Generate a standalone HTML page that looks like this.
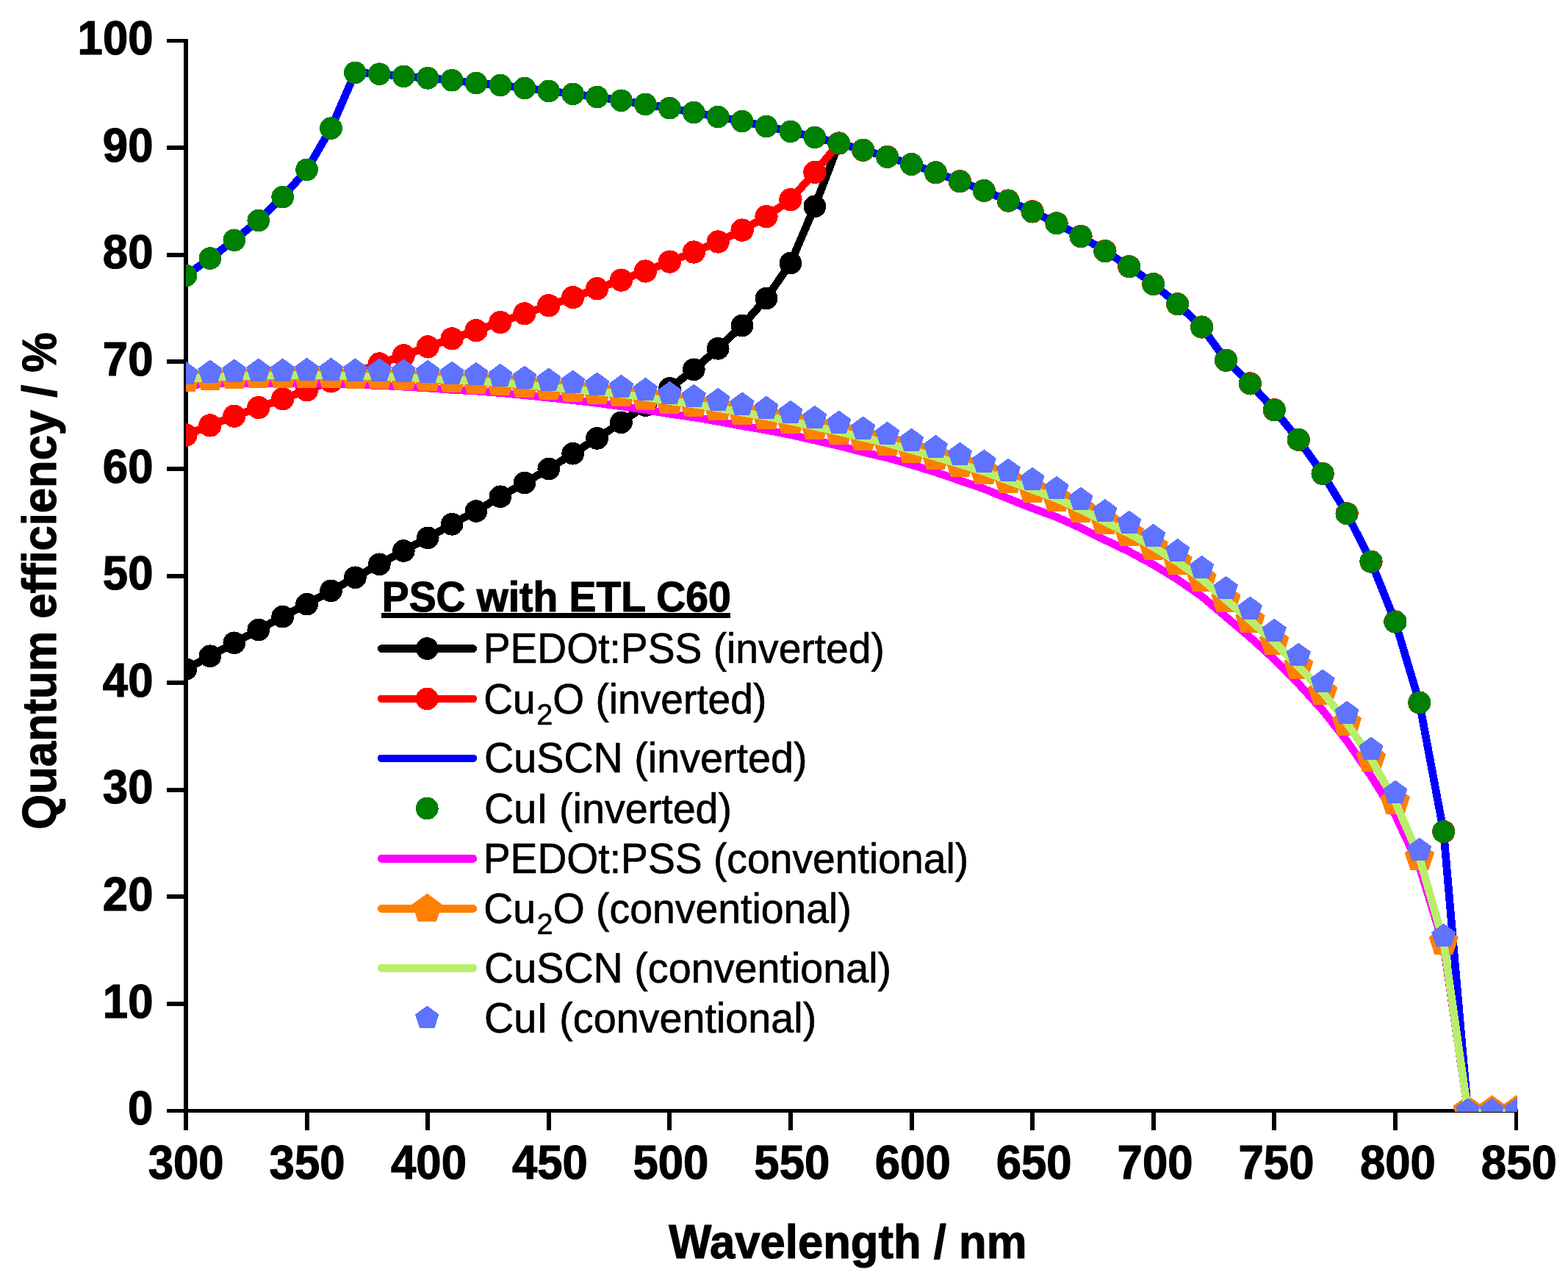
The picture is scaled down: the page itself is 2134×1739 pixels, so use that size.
<!DOCTYPE html>
<html lang="en"><head><meta charset="utf-8"><title>Quantum efficiency vs wavelength</title>
<style>html,body{margin:0;padding:0;background:#fff}svg{display:block}text{font-family:"Liberation Sans", Arial, Helvetica, sans-serif;fill:#000}</style>
</head><body>
<svg width="2134" height="1739" viewBox="0 0 2134 1739">
<rect x="0" y="0" width="2134" height="1739" fill="#fff"/>
<g fill="#000" shape-rendering="crispEdges">
<rect x="250" y="53" width="6" height="1485"/>
<rect x="227" y="1509" width="1839" height="5"/>
<rect x="227" y="1363" width="24" height="6"/>
<rect x="227" y="1217" width="24" height="6"/>
<rect x="227" y="1072" width="24" height="6"/>
<rect x="227" y="926" width="24" height="6"/>
<rect x="227" y="781" width="24" height="6"/>
<rect x="227" y="635" width="24" height="6"/>
<rect x="227" y="489" width="24" height="6"/>
<rect x="227" y="344" width="24" height="6"/>
<rect x="227" y="198" width="24" height="6"/>
<rect x="227" y="53" width="24" height="5"/>
<rect x="415" y="1509" width="6" height="29"/>
<rect x="579" y="1509" width="6" height="29"/>
<rect x="744" y="1509" width="6" height="29"/>
<rect x="908" y="1509" width="6" height="29"/>
<rect x="1073" y="1509" width="6" height="29"/>
<rect x="1238" y="1509" width="6" height="29"/>
<rect x="1402" y="1509" width="6" height="29"/>
<rect x="1567" y="1509" width="6" height="29"/>
<rect x="1731" y="1509" width="6" height="29"/>
<rect x="1896" y="1509" width="6" height="29"/>
<rect x="2061" y="1509" width="5" height="29"/>
</g>
<defs><clipPath id="plot"><rect x="253" y="0" width="1812" height="1513"/></clipPath></defs>
<g clip-path="url(#plot)" shape-rendering="crispEdges">
<polyline points="253.0,910.5 285.9,892.8 318.8,874.8 351.8,857.0 384.7,839.1 417.6,822.1 450.5,803.9 483.4,785.8 516.3,767.8 549.3,749.6 582.2,731.9 615.1,713.3 648.0,695.5 680.9,675.8 713.9,657.0 746.8,638.0 779.7,617.2 812.6,596.4 845.5,574.8 878.4,551.6 911.4,528.4 944.3,502.8 977.2,474.3 1010.1,443.0 1043.0,405.9 1075.9,358.1 1108.9,280.8 1141.8,195.0 1174.7,204.3 1207.6,213.4 1240.5,223.5 1273.5,234.8 1306.4,246.7 1339.3,259.4 1372.2,273.1 1405.1,287.9 1438.0,303.8 1471.0,321.6 1503.9,341.6 1536.8,362.8 1569.7,386.6 1602.6,413.7 1635.6,445.0 1668.5,490.2 1701.4,521.9 1734.3,557.7 1767.2,598.3 1800.1,644.5 1833.1,698.8 1866.0,764.2 1898.9,846.0 1931.8,956.1 1964.7,1131.6 1997.7,1511.5 2030.6,1511.5 2063.5,1511.5" fill="none" stroke="#000000" stroke-width="10.7" stroke-linejoin="round" stroke-linecap="round"/>
<g fill="#000000"><circle cx="253.0" cy="910.5" r="15.35"/><circle cx="285.9" cy="892.8" r="15.35"/><circle cx="318.8" cy="874.8" r="15.35"/><circle cx="351.8" cy="857.0" r="15.35"/><circle cx="384.7" cy="839.1" r="15.35"/><circle cx="417.6" cy="822.1" r="15.35"/><circle cx="450.5" cy="803.9" r="15.35"/><circle cx="483.4" cy="785.8" r="15.35"/><circle cx="516.3" cy="767.8" r="15.35"/><circle cx="549.3" cy="749.6" r="15.35"/><circle cx="582.2" cy="731.9" r="15.35"/><circle cx="615.1" cy="713.3" r="15.35"/><circle cx="648.0" cy="695.5" r="15.35"/><circle cx="680.9" cy="675.8" r="15.35"/><circle cx="713.9" cy="657.0" r="15.35"/><circle cx="746.8" cy="638.0" r="15.35"/><circle cx="779.7" cy="617.2" r="15.35"/><circle cx="812.6" cy="596.4" r="15.35"/><circle cx="845.5" cy="574.8" r="15.35"/><circle cx="878.4" cy="551.6" r="15.35"/><circle cx="911.4" cy="528.4" r="15.35"/><circle cx="944.3" cy="502.8" r="15.35"/><circle cx="977.2" cy="474.3" r="15.35"/><circle cx="1010.1" cy="443.0" r="15.35"/><circle cx="1043.0" cy="405.9" r="15.35"/><circle cx="1075.9" cy="358.1" r="15.35"/><circle cx="1108.9" cy="280.8" r="15.35"/><circle cx="1141.8" cy="195.0" r="15.35"/><circle cx="1174.7" cy="204.3" r="15.35"/><circle cx="1207.6" cy="213.4" r="15.35"/><circle cx="1240.5" cy="223.5" r="15.35"/><circle cx="1273.5" cy="234.8" r="15.35"/><circle cx="1306.4" cy="246.7" r="15.35"/><circle cx="1339.3" cy="259.4" r="15.35"/><circle cx="1372.2" cy="273.1" r="15.35"/><circle cx="1405.1" cy="287.9" r="15.35"/><circle cx="1438.0" cy="303.8" r="15.35"/><circle cx="1471.0" cy="321.6" r="15.35"/><circle cx="1503.9" cy="341.6" r="15.35"/><circle cx="1536.8" cy="362.8" r="15.35"/><circle cx="1569.7" cy="386.6" r="15.35"/><circle cx="1602.6" cy="413.7" r="15.35"/><circle cx="1635.6" cy="445.0" r="15.35"/><circle cx="1668.5" cy="490.2" r="15.35"/><circle cx="1701.4" cy="521.9" r="15.35"/><circle cx="1734.3" cy="557.7" r="15.35"/><circle cx="1767.2" cy="598.3" r="15.35"/><circle cx="1800.1" cy="644.5" r="15.35"/><circle cx="1833.1" cy="698.8" r="15.35"/><circle cx="1866.0" cy="764.2" r="15.35"/><circle cx="1898.9" cy="846.0" r="15.35"/><circle cx="1931.8" cy="956.1" r="15.35"/><circle cx="1964.7" cy="1131.6" r="15.35"/><circle cx="1997.7" cy="1511.5" r="15.35"/><circle cx="2030.6" cy="1511.5" r="15.35"/><circle cx="2063.5" cy="1511.5" r="15.35"/></g>
<polyline points="253.0,592.0 285.9,578.9 318.8,566.2 351.8,554.6 384.7,542.7 417.6,530.8 450.5,518.9 483.4,507.0 516.3,494.9 549.3,483.8 582.2,471.9 615.1,460.8 648.0,449.7 680.9,438.5 713.9,426.8 746.8,415.7 779.7,404.6 812.6,392.8 845.5,381.1 878.4,369.0 911.4,356.1 944.3,343.0 977.2,329.0 1010.1,313.1 1043.0,294.6 1075.9,271.7 1108.9,234.4 1141.8,195.0 1174.7,204.3 1207.6,213.4 1240.5,223.5 1273.5,234.8 1306.4,246.7 1339.3,259.4 1372.2,273.1 1405.1,287.9 1438.0,303.8 1471.0,321.6 1503.9,341.6 1536.8,362.8 1569.7,386.6 1602.6,413.7 1635.6,445.0 1668.5,490.2 1701.4,521.9 1734.3,557.7 1767.2,598.3 1800.1,644.5 1833.1,698.8 1866.0,764.2 1898.9,846.0 1931.8,956.1 1964.7,1131.6 1997.7,1511.5 2030.6,1511.5 2063.5,1511.5" fill="none" stroke="#ff0000" stroke-width="10.7" stroke-linejoin="round" stroke-linecap="round"/>
<g fill="#ff0000"><circle cx="253.0" cy="592.0" r="15.65"/><circle cx="285.9" cy="578.9" r="15.65"/><circle cx="318.8" cy="566.2" r="15.65"/><circle cx="351.8" cy="554.6" r="15.65"/><circle cx="384.7" cy="542.7" r="15.65"/><circle cx="417.6" cy="530.8" r="15.65"/><circle cx="450.5" cy="518.9" r="15.65"/><circle cx="483.4" cy="507.0" r="15.65"/><circle cx="516.3" cy="494.9" r="15.65"/><circle cx="549.3" cy="483.8" r="15.65"/><circle cx="582.2" cy="471.9" r="15.65"/><circle cx="615.1" cy="460.8" r="15.65"/><circle cx="648.0" cy="449.7" r="15.65"/><circle cx="680.9" cy="438.5" r="15.65"/><circle cx="713.9" cy="426.8" r="15.65"/><circle cx="746.8" cy="415.7" r="15.65"/><circle cx="779.7" cy="404.6" r="15.65"/><circle cx="812.6" cy="392.8" r="15.65"/><circle cx="845.5" cy="381.1" r="15.65"/><circle cx="878.4" cy="369.0" r="15.65"/><circle cx="911.4" cy="356.1" r="15.65"/><circle cx="944.3" cy="343.0" r="15.65"/><circle cx="977.2" cy="329.0" r="15.65"/><circle cx="1010.1" cy="313.1" r="15.65"/><circle cx="1043.0" cy="294.6" r="15.65"/><circle cx="1075.9" cy="271.7" r="15.65"/><circle cx="1108.9" cy="234.4" r="15.65"/><circle cx="1141.8" cy="195.0" r="15.65"/><circle cx="1174.7" cy="204.3" r="15.65"/><circle cx="1207.6" cy="213.4" r="15.65"/><circle cx="1240.5" cy="223.5" r="15.65"/><circle cx="1273.5" cy="234.8" r="15.65"/><circle cx="1306.4" cy="246.7" r="15.65"/><circle cx="1339.3" cy="259.4" r="15.65"/><circle cx="1372.2" cy="273.1" r="15.65"/><circle cx="1405.1" cy="287.9" r="15.65"/><circle cx="1438.0" cy="303.8" r="15.65"/><circle cx="1471.0" cy="321.6" r="15.65"/><circle cx="1503.9" cy="341.6" r="15.65"/><circle cx="1536.8" cy="362.8" r="15.65"/><circle cx="1569.7" cy="386.6" r="15.65"/><circle cx="1602.6" cy="413.7" r="15.65"/><circle cx="1635.6" cy="445.0" r="15.65"/><circle cx="1668.5" cy="490.2" r="15.65"/><circle cx="1701.4" cy="521.9" r="15.65"/><circle cx="1734.3" cy="557.7" r="15.65"/><circle cx="1767.2" cy="598.3" r="15.65"/><circle cx="1800.1" cy="644.5" r="15.65"/><circle cx="1833.1" cy="698.8" r="15.65"/><circle cx="1866.0" cy="764.2" r="15.65"/><circle cx="1898.9" cy="846.0" r="15.65"/><circle cx="1931.8" cy="956.1" r="15.65"/><circle cx="1964.7" cy="1131.6" r="15.65"/><circle cx="1997.7" cy="1511.5" r="15.65"/><circle cx="2030.6" cy="1511.5" r="15.65"/><circle cx="2063.5" cy="1511.5" r="15.65"/></g>
<polyline points="253.0,374.9 285.9,351.6 318.8,326.8 351.8,300.0 384.7,268.1 417.6,230.9 450.5,174.6 483.4,98.9 516.3,100.7 549.3,103.9 582.2,106.3 615.1,109.2 648.0,113.0 680.9,116.0 713.9,119.9 746.8,123.9 779.7,127.9 812.6,132.0 845.5,136.8 878.4,141.9 911.4,147.1 944.3,153.0 977.2,159.0 1010.1,165.1 1043.0,172.0 1075.9,178.9 1108.9,186.9 1141.8,195.0 1174.7,204.3 1207.6,213.4 1240.5,223.5 1273.5,234.8 1306.4,246.7 1339.3,259.4 1372.2,273.1 1405.1,287.9 1438.0,303.8 1471.0,321.6 1503.9,341.6 1536.8,362.8 1569.7,386.6 1602.6,413.7 1635.6,445.0 1668.5,490.2 1701.4,521.9 1734.3,557.7 1767.2,598.3 1800.1,644.5 1833.1,698.8 1866.0,764.2 1898.9,846.0 1931.8,956.1 1964.7,1131.6 1997.7,1511.5 2030.6,1511.5 2063.5,1511.5" fill="none" stroke="#0000ff" stroke-width="10.7" stroke-linejoin="round" stroke-linecap="round"/>
<g fill="#008000"><circle cx="253.0" cy="374.9" r="15.35"/><circle cx="285.9" cy="351.6" r="15.35"/><circle cx="318.8" cy="326.8" r="15.35"/><circle cx="351.8" cy="300.0" r="15.35"/><circle cx="384.7" cy="268.1" r="15.35"/><circle cx="417.6" cy="230.9" r="15.35"/><circle cx="450.5" cy="174.6" r="15.35"/><circle cx="483.4" cy="98.9" r="15.35"/><circle cx="516.3" cy="100.7" r="15.35"/><circle cx="549.3" cy="103.9" r="15.35"/><circle cx="582.2" cy="106.3" r="15.35"/><circle cx="615.1" cy="109.2" r="15.35"/><circle cx="648.0" cy="113.0" r="15.35"/><circle cx="680.9" cy="116.0" r="15.35"/><circle cx="713.9" cy="119.9" r="15.35"/><circle cx="746.8" cy="123.9" r="15.35"/><circle cx="779.7" cy="127.9" r="15.35"/><circle cx="812.6" cy="132.0" r="15.35"/><circle cx="845.5" cy="136.8" r="15.35"/><circle cx="878.4" cy="141.9" r="15.35"/><circle cx="911.4" cy="147.1" r="15.35"/><circle cx="944.3" cy="153.0" r="15.35"/><circle cx="977.2" cy="159.0" r="15.35"/><circle cx="1010.1" cy="165.1" r="15.35"/><circle cx="1043.0" cy="172.0" r="15.35"/><circle cx="1075.9" cy="178.9" r="15.35"/><circle cx="1108.9" cy="186.9" r="15.35"/><circle cx="1141.8" cy="195.0" r="15.35"/><circle cx="1174.7" cy="204.3" r="15.35"/><circle cx="1207.6" cy="213.4" r="15.35"/><circle cx="1240.5" cy="223.5" r="15.35"/><circle cx="1273.5" cy="234.8" r="15.35"/><circle cx="1306.4" cy="246.7" r="15.35"/><circle cx="1339.3" cy="259.4" r="15.35"/><circle cx="1372.2" cy="273.1" r="15.35"/><circle cx="1405.1" cy="287.9" r="15.35"/><circle cx="1438.0" cy="303.8" r="15.35"/><circle cx="1471.0" cy="321.6" r="15.35"/><circle cx="1503.9" cy="341.6" r="15.35"/><circle cx="1536.8" cy="362.8" r="15.35"/><circle cx="1569.7" cy="386.6" r="15.35"/><circle cx="1602.6" cy="413.7" r="15.35"/><circle cx="1635.6" cy="445.0" r="15.35"/><circle cx="1668.5" cy="490.2" r="15.35"/><circle cx="1701.4" cy="521.9" r="15.35"/><circle cx="1734.3" cy="557.7" r="15.35"/><circle cx="1767.2" cy="598.3" r="15.35"/><circle cx="1800.1" cy="644.5" r="15.35"/><circle cx="1833.1" cy="698.8" r="15.35"/><circle cx="1866.0" cy="764.2" r="15.35"/><circle cx="1898.9" cy="846.0" r="15.35"/><circle cx="1931.8" cy="956.1" r="15.35"/><circle cx="1964.7" cy="1131.6" r="15.35"/><circle cx="1997.7" cy="1511.5" r="15.35"/><circle cx="2030.6" cy="1511.5" r="15.35"/><circle cx="2063.5" cy="1511.5" r="15.35"/></g>
<polyline points="253.0,524.2 285.9,522.2 318.8,521.4 351.8,521.0 384.7,521.7 417.6,521.6 450.5,522.3 483.4,523.7 516.3,524.4 549.3,526.2 582.2,528.0 615.1,530.4 648.0,532.1 680.9,534.6 713.9,537.7 746.8,541.1 779.7,544.6 812.6,548.4 845.5,552.8 878.4,557.6 911.4,563.2 944.3,567.8 977.2,573.4 1010.1,579.5 1043.0,585.2 1075.9,591.6 1108.9,599.1 1141.8,606.6 1174.7,615.2 1207.6,622.9 1240.5,632.4 1273.5,642.5 1306.4,653.9 1339.3,665.2 1372.2,678.5 1405.1,691.6 1438.0,703.6 1471.0,718.5 1503.9,734.8 1536.8,750.5 1569.7,768.4 1602.6,788.5 1635.6,811.5 1668.5,839.4 1701.4,867.1 1734.3,897.1 1767.2,930.4 1800.1,966.5 1833.1,1008.2 1866.0,1056.0 1898.9,1109.0 1931.8,1179.1 1964.7,1286.0 1997.7,1511.5 2030.6,1511.5 2063.5,1511.5" fill="none" stroke="#ff00ff" stroke-width="10.7" stroke-linejoin="round" stroke-linecap="round"/>
<polyline points="253.0,515.6 285.9,513.8 318.8,512.0 351.8,511.0 384.7,510.9 417.6,510.4 450.5,510.7 483.4,511.8 516.3,512.1 549.3,513.5 582.2,515.1 615.1,517.0 648.0,518.4 680.9,520.5 713.9,523.5 746.8,526.6 779.7,529.8 812.6,532.9 845.5,536.3 878.4,540.4 911.4,545.6 944.3,549.9 977.2,555.2 1010.1,561.2 1043.0,566.7 1075.9,573.1 1108.9,580.4 1141.8,587.5 1174.7,595.6 1207.6,603.1 1240.5,612.5 1273.5,621.7 1306.4,631.7 1339.3,641.8 1372.2,654.1 1405.1,666.3 1438.0,678.5 1471.0,693.6 1503.9,710.2 1536.8,726.1 1569.7,744.3 1602.6,764.7 1635.6,788.0 1668.5,816.2 1701.4,843.9 1734.3,873.8 1767.2,906.7 1800.1,941.7 1833.1,983.8 1866.0,1032.3 1898.9,1090.8 1931.8,1166.9 1964.7,1281.8 1997.7,1511.5 2030.6,1511.5 2063.5,1511.5" fill="none" stroke="#ff8000" stroke-width="10.7" stroke-linejoin="round" stroke-linecap="round"/>
<g fill="#ff8000"><polygon points="253.0,494.4 273.2,509.0 265.5,532.8 240.5,532.8 232.8,509.0"/><polygon points="285.9,492.6 306.1,507.2 298.4,531.0 273.5,531.0 265.8,507.2"/><polygon points="318.8,490.8 339.0,505.4 331.3,529.2 306.4,529.2 298.7,505.4"/><polygon points="351.8,489.8 371.9,504.4 364.2,528.2 339.3,528.2 331.6,504.4"/><polygon points="384.7,489.7 404.8,504.3 397.1,528.1 372.2,528.1 364.5,504.3"/><polygon points="417.6,489.2 437.8,503.8 430.1,527.6 405.1,527.6 397.4,503.8"/><polygon points="450.5,489.5 470.7,504.1 463.0,527.9 438.0,527.9 430.3,504.1"/><polygon points="483.4,490.6 503.6,505.2 495.9,528.9 471.0,528.9 463.3,505.2"/><polygon points="516.3,490.9 536.5,505.5 528.8,529.3 503.9,529.3 496.2,505.5"/><polygon points="549.3,492.3 569.4,507.0 561.7,530.7 536.8,530.7 529.1,507.0"/><polygon points="582.2,493.9 602.3,508.5 594.6,532.3 569.7,532.3 562.0,508.5"/><polygon points="615.1,495.8 635.3,510.5 627.6,534.2 602.6,534.2 594.9,510.5"/><polygon points="648.0,497.2 668.2,511.8 660.5,535.5 635.6,535.5 627.9,511.8"/><polygon points="680.9,499.3 701.1,514.0 693.4,537.7 668.5,537.7 660.8,514.0"/><polygon points="713.9,502.3 734.0,516.9 726.3,540.6 701.4,540.6 693.7,516.9"/><polygon points="746.8,505.4 766.9,520.0 759.2,543.8 734.3,543.8 726.6,520.0"/><polygon points="779.7,508.6 799.9,523.2 792.1,546.9 767.2,546.9 759.5,523.2"/><polygon points="812.6,511.7 832.8,526.4 825.1,550.1 800.1,550.1 792.4,526.4"/><polygon points="845.5,515.1 865.7,529.7 858.0,553.4 833.1,553.4 825.4,529.7"/><polygon points="878.4,519.2 898.6,533.9 890.9,557.6 866.0,557.6 858.3,533.9"/><polygon points="911.4,524.4 931.5,539.0 923.8,562.8 898.9,562.8 891.2,539.0"/><polygon points="944.3,528.7 964.4,543.3 956.7,567.1 931.8,567.1 924.1,543.3"/><polygon points="977.2,534.0 997.4,548.6 989.7,572.4 964.7,572.4 957.0,548.6"/><polygon points="1010.1,540.0 1030.3,554.6 1022.6,578.4 997.7,578.4 990.0,554.6"/><polygon points="1043.0,545.5 1063.2,560.1 1055.5,583.9 1030.6,583.9 1022.9,560.1"/><polygon points="1075.9,551.9 1096.1,566.5 1088.4,590.3 1063.5,590.3 1055.8,566.5"/><polygon points="1108.9,559.2 1129.0,573.8 1121.3,597.5 1096.4,597.5 1088.7,573.8"/><polygon points="1141.8,566.3 1161.9,580.9 1154.2,604.6 1129.3,604.6 1121.6,580.9"/><polygon points="1174.7,574.4 1194.9,589.1 1187.2,612.8 1162.2,612.8 1154.5,589.1"/><polygon points="1207.6,581.9 1227.8,596.6 1220.1,620.3 1195.2,620.3 1187.5,596.6"/><polygon points="1240.5,591.3 1260.7,605.9 1253.0,629.7 1228.1,629.7 1220.4,605.9"/><polygon points="1273.5,600.5 1293.6,615.1 1285.9,638.8 1261.0,638.8 1253.3,615.1"/><polygon points="1306.4,610.5 1326.5,625.2 1318.8,648.9 1293.9,648.9 1286.2,625.2"/><polygon points="1339.3,620.6 1359.5,635.2 1351.8,658.9 1326.8,658.9 1319.1,635.2"/><polygon points="1372.2,632.9 1392.4,647.6 1384.7,671.3 1359.8,671.3 1352.0,647.6"/><polygon points="1405.1,645.1 1425.3,659.7 1417.6,683.5 1392.7,683.5 1385.0,659.7"/><polygon points="1438.0,657.3 1458.2,672.0 1450.5,695.7 1425.6,695.7 1417.9,672.0"/><polygon points="1471.0,672.4 1491.1,687.1 1483.4,710.8 1458.5,710.8 1450.8,687.1"/><polygon points="1503.9,689.0 1524.0,703.6 1516.3,727.3 1491.4,727.3 1483.7,703.6"/><polygon points="1536.8,704.9 1557.0,719.5 1549.3,743.2 1524.3,743.2 1516.6,719.5"/><polygon points="1569.7,723.1 1589.9,737.7 1582.2,761.5 1557.3,761.5 1549.6,737.7"/><polygon points="1602.6,743.5 1622.8,758.2 1615.1,781.9 1590.2,781.9 1582.5,758.2"/><polygon points="1635.6,766.8 1655.7,781.4 1648.0,805.1 1623.1,805.1 1615.4,781.4"/><polygon points="1668.5,795.0 1688.6,809.6 1680.9,833.4 1656.0,833.4 1648.3,809.6"/><polygon points="1701.4,822.7 1721.6,837.3 1713.9,861.0 1688.9,861.0 1681.2,837.3"/><polygon points="1734.3,852.6 1754.5,867.3 1746.8,891.0 1721.8,891.0 1714.1,867.3"/><polygon points="1767.2,885.5 1787.4,900.1 1779.7,923.9 1754.8,923.9 1747.1,900.1"/><polygon points="1800.1,920.5 1820.3,935.1 1812.6,958.9 1787.7,958.9 1780.0,935.1"/><polygon points="1833.1,962.6 1853.2,977.2 1845.5,1001.0 1820.6,1001.0 1812.9,977.2"/><polygon points="1866.0,1011.1 1886.1,1025.7 1878.4,1049.5 1853.5,1049.5 1845.8,1025.7"/><polygon points="1898.9,1069.6 1919.1,1084.2 1911.4,1108.0 1886.4,1108.0 1878.7,1084.2"/><polygon points="1931.8,1145.7 1952.0,1160.3 1944.3,1184.1 1919.4,1184.1 1911.7,1160.3"/><polygon points="1964.7,1260.6 1984.9,1275.2 1977.2,1299.0 1952.3,1299.0 1944.6,1275.2"/><polygon points="1997.7,1490.3 2017.8,1504.9 2010.1,1528.7 1985.2,1528.7 1977.5,1504.9"/><polygon points="2030.6,1490.3 2050.7,1504.9 2043.0,1528.7 2018.1,1528.7 2010.4,1504.9"/><polygon points="2063.5,1490.3 2083.7,1504.9 2076.0,1528.7 2051.0,1528.7 2043.3,1504.9"/></g>
<polyline points="253.0,515.6 285.9,513.8 318.8,512.0 351.8,511.0 384.7,510.9 417.6,510.4 450.5,510.7 483.4,511.8 516.3,512.1 549.3,513.5 582.2,515.1 615.1,517.0 648.0,518.4 680.9,520.5 713.9,523.5 746.8,526.6 779.7,529.8 812.6,532.9 845.5,536.3 878.4,540.4 911.4,545.6 944.3,549.9 977.2,555.2 1010.1,561.2 1043.0,566.7 1075.9,573.1 1108.9,580.4 1141.8,587.5 1174.7,595.6 1207.6,603.1 1240.5,612.5 1273.5,621.7 1306.4,631.7 1339.3,641.8 1372.2,654.1 1405.1,666.3 1438.0,678.5 1471.0,693.6 1503.9,710.2 1536.8,726.1 1569.7,744.3 1602.6,764.7 1635.6,788.0 1668.5,816.2 1701.4,843.9 1734.3,873.8 1767.2,906.7 1800.1,941.7 1833.1,983.8 1866.0,1032.3 1898.9,1090.8 1931.8,1166.9 1964.7,1281.8 1997.7,1511.5 2030.6,1511.5 2063.5,1511.5" fill="none" stroke="#b9ee6b" stroke-width="10.7" stroke-linejoin="round" stroke-linecap="round"/>
<g fill="#5f73ff"><polygon points="253.0,491.8 269.5,503.8 263.2,523.3 242.8,523.3 236.5,503.8"/><polygon points="285.9,489.5 302.5,501.5 296.1,521.0 275.7,521.0 269.4,501.5"/><polygon points="318.8,488.4 335.4,500.4 329.1,519.9 308.6,519.9 302.3,500.4"/><polygon points="351.8,487.5 368.3,499.5 362.0,519.0 341.5,519.0 335.2,499.5"/><polygon points="384.7,487.5 401.2,499.5 394.9,519.0 374.4,519.0 368.1,499.5"/><polygon points="417.6,486.7 434.1,498.7 427.8,518.2 407.4,518.2 401.0,498.7"/><polygon points="450.5,486.7 467.1,498.7 460.7,518.2 440.3,518.2 434.0,498.7"/><polygon points="483.4,487.4 500.0,499.4 493.7,518.9 473.2,518.9 466.9,499.4"/><polygon points="516.3,487.4 532.9,499.4 526.6,518.9 506.1,518.9 499.8,499.4"/><polygon points="549.3,488.5 565.8,500.5 559.5,520.0 539.0,520.0 532.7,500.5"/><polygon points="582.2,489.7 598.7,501.7 592.4,521.2 572.0,521.2 565.6,501.7"/><polygon points="615.1,491.5 631.6,503.5 625.3,523.0 604.9,523.0 598.5,503.5"/><polygon points="648.0,492.7 664.6,504.7 658.2,524.2 637.8,524.2 631.5,504.7"/><polygon points="680.9,494.7 697.5,506.7 691.2,526.2 670.7,526.2 664.4,506.7"/><polygon points="713.9,497.5 730.4,509.5 724.1,529.0 703.6,529.0 697.3,509.5"/><polygon points="746.8,500.5 763.3,512.5 757.0,532.0 736.5,532.0 730.2,512.5"/><polygon points="779.7,503.5 796.2,515.5 789.9,535.0 769.5,535.0 763.1,515.5"/><polygon points="812.6,506.5 829.2,518.5 822.8,538.0 802.4,538.0 796.1,518.5"/><polygon points="845.5,509.7 862.1,521.7 855.8,541.2 835.3,541.2 829.0,521.7"/><polygon points="878.4,513.7 895.0,525.7 888.7,545.2 868.2,545.2 861.9,525.7"/><polygon points="911.4,518.7 927.9,530.7 921.6,550.2 901.1,550.2 894.8,530.7"/><polygon points="944.3,522.7 960.8,534.7 954.5,554.2 934.1,554.2 927.7,534.7"/><polygon points="977.2,527.7 993.7,539.7 987.4,559.2 967.0,559.2 960.6,539.7"/><polygon points="1010.1,533.4 1026.7,545.4 1020.3,564.9 999.9,564.9 993.6,545.4"/><polygon points="1043.0,538.6 1059.6,550.6 1053.3,570.1 1032.8,570.1 1026.5,550.6"/><polygon points="1075.9,544.7 1092.5,556.7 1086.2,576.2 1065.7,576.2 1059.4,556.7"/><polygon points="1108.9,551.7 1125.4,563.7 1119.1,583.2 1098.6,583.2 1092.3,563.7"/><polygon points="1141.8,558.5 1158.3,570.5 1152.0,590.0 1131.6,590.0 1125.2,570.5"/><polygon points="1174.7,566.4 1191.3,578.4 1184.9,597.9 1164.5,597.9 1158.2,578.4"/><polygon points="1207.6,573.6 1224.2,585.6 1217.8,605.1 1197.4,605.1 1191.1,585.6"/><polygon points="1240.5,582.7 1257.1,594.7 1250.8,614.2 1230.3,614.2 1224.0,594.7"/><polygon points="1273.5,591.7 1290.0,603.7 1283.7,623.2 1263.2,623.2 1256.9,603.7"/><polygon points="1306.4,601.6 1322.9,613.6 1316.6,633.1 1296.1,633.1 1289.8,613.6"/><polygon points="1339.3,611.5 1355.8,623.5 1349.5,643.0 1329.1,643.0 1322.7,623.5"/><polygon points="1372.2,623.7 1388.8,635.7 1382.4,655.2 1362.0,655.2 1355.7,635.7"/><polygon points="1405.1,635.7 1421.7,647.7 1415.4,667.2 1394.9,667.2 1388.6,647.7"/><polygon points="1438.0,647.7 1454.6,659.7 1448.3,679.2 1427.8,679.2 1421.5,659.7"/><polygon points="1471.0,662.6 1487.5,674.6 1481.2,694.1 1460.7,694.1 1454.4,674.6"/><polygon points="1503.9,678.9 1520.4,690.9 1514.1,710.4 1493.7,710.4 1487.3,690.9"/><polygon points="1536.8,694.6 1553.4,706.6 1547.0,726.1 1526.6,726.1 1520.3,706.6"/><polygon points="1569.7,712.6 1586.3,724.6 1579.9,744.1 1559.5,744.1 1553.2,724.6"/><polygon points="1602.6,732.8 1619.2,744.8 1612.9,764.3 1592.4,764.3 1586.1,744.8"/><polygon points="1635.6,755.8 1652.1,767.8 1645.8,787.3 1625.3,787.3 1619.0,767.8"/><polygon points="1668.5,783.8 1685.0,795.8 1678.7,815.3 1658.2,815.3 1651.9,795.8"/><polygon points="1701.4,811.6 1717.9,823.6 1711.6,843.1 1691.2,843.1 1684.8,823.6"/><polygon points="1734.3,841.7 1750.9,853.7 1744.5,873.2 1724.1,873.2 1717.8,853.7"/><polygon points="1767.2,874.7 1783.8,886.7 1777.5,906.2 1757.0,906.2 1750.7,886.7"/><polygon points="1800.1,910.6 1816.7,922.6 1810.4,942.1 1789.9,942.1 1783.6,922.6"/><polygon points="1833.1,953.6 1849.6,965.6 1843.3,985.1 1822.8,985.1 1816.5,965.6"/><polygon points="1866.0,1002.6 1882.5,1014.6 1876.2,1034.1 1855.8,1034.1 1849.4,1014.6"/><polygon points="1898.9,1061.6 1915.4,1073.6 1909.1,1093.1 1888.7,1093.1 1882.4,1073.6"/><polygon points="1931.8,1139.7 1948.4,1151.7 1942.0,1171.2 1921.6,1171.2 1915.3,1151.7"/><polygon points="1964.7,1256.6 1981.3,1268.6 1975.0,1288.1 1954.5,1288.1 1948.2,1268.6"/><polygon points="1997.7,1494.1 2014.2,1506.1 2007.9,1525.6 1987.4,1525.6 1981.1,1506.1"/><polygon points="2030.6,1494.1 2047.1,1506.1 2040.8,1525.6 2020.3,1525.6 2014.0,1506.1"/><polygon points="2063.5,1494.1 2080.0,1506.1 2073.7,1525.6 2053.3,1525.6 2046.9,1506.1"/></g>
</g>
<g shape-rendering="crispEdges">
<line x1="519.2" y1="882.6" x2="643.8" y2="882.6" stroke="#000000" stroke-width="10.7" stroke-linecap="round"/>
<circle cx="581.3" cy="882.6" r="15.35" fill="#000000"/>
<line x1="519.2" y1="950.9" x2="643.8" y2="950.9" stroke="#ff0000" stroke-width="10.7" stroke-linecap="round"/>
<circle cx="581.3" cy="950.9" r="15.35" fill="#ff0000"/>
<line x1="519.2" y1="1031.9" x2="643.8" y2="1031.9" stroke="#0000ff" stroke-width="10.7" stroke-linecap="round"/>
<circle cx="581.3" cy="1100.0" r="15.35" fill="#008000"/>
<line x1="519.2" y1="1168.3" x2="643.8" y2="1168.3" stroke="#ff00ff" stroke-width="10.7" stroke-linecap="round"/>
<line x1="519.2" y1="1236.4" x2="643.8" y2="1236.4" stroke="#ff8000" stroke-width="10.7" stroke-linecap="round"/>
<g fill="#ff8000"><polygon points="581.3,1215.8 601.5,1230.4 593.8,1254.2 568.8,1254.2 561.1,1230.4"/></g>
<line x1="519.2" y1="1317.3" x2="643.8" y2="1317.3" stroke="#b9ee6b" stroke-width="10.7" stroke-linecap="round"/>
<g fill="#5f73ff"><polygon points="581.3,1368.6 597.5,1380.3 591.3,1399.4 571.3,1399.4 565.1,1380.3"/></g>
<rect x="519" y="834" width="475" height="7" fill="#000"/>
</g>
<text transform="translate(174.00,1530.10) scale(0.9500,1)" font-weight="bold" font-size="65" stroke="#000" stroke-width="1.2" stroke-linejoin="round">0</text>
<text transform="translate(139.80,1384.50) scale(0.9500,1)" font-weight="bold" font-size="65" stroke="#000" stroke-width="1.2" stroke-linejoin="round">10</text>
<text transform="translate(139.80,1238.90) scale(0.9500,1)" font-weight="bold" font-size="65" stroke="#000" stroke-width="1.2" stroke-linejoin="round">20</text>
<text transform="translate(139.80,1093.30) scale(0.9500,1)" font-weight="bold" font-size="65" stroke="#000" stroke-width="1.2" stroke-linejoin="round">30</text>
<text transform="translate(139.80,947.70) scale(0.9500,1)" font-weight="bold" font-size="65" stroke="#000" stroke-width="1.2" stroke-linejoin="round">40</text>
<text transform="translate(139.80,802.10) scale(0.9500,1)" font-weight="bold" font-size="65" stroke="#000" stroke-width="1.2" stroke-linejoin="round">50</text>
<text transform="translate(139.80,656.50) scale(0.9500,1)" font-weight="bold" font-size="65" stroke="#000" stroke-width="1.2" stroke-linejoin="round">60</text>
<text transform="translate(139.80,510.90) scale(0.9500,1)" font-weight="bold" font-size="65" stroke="#000" stroke-width="1.2" stroke-linejoin="round">70</text>
<text transform="translate(139.80,365.30) scale(0.9500,1)" font-weight="bold" font-size="65" stroke="#000" stroke-width="1.2" stroke-linejoin="round">80</text>
<text transform="translate(139.80,219.70) scale(0.9500,1)" font-weight="bold" font-size="65" stroke="#000" stroke-width="1.2" stroke-linejoin="round">90</text>
<text transform="translate(105.60,74.10) scale(0.9500,1)" font-weight="bold" font-size="65" stroke="#000" stroke-width="1.2" stroke-linejoin="round">100</text>
<text transform="translate(201.68,1603.80) scale(0.9500,1)" font-weight="bold" font-size="65" stroke="#000" stroke-width="1.2" stroke-linejoin="round">300</text>
<text transform="translate(366.60,1603.80) scale(0.9500,1)" font-weight="bold" font-size="65" stroke="#000" stroke-width="1.2" stroke-linejoin="round">350</text>
<text transform="translate(532.00,1603.80) scale(0.9500,1)" font-weight="bold" font-size="65" stroke="#000" stroke-width="1.2" stroke-linejoin="round">400</text>
<text transform="translate(696.93,1603.80) scale(0.9500,1)" font-weight="bold" font-size="65" stroke="#000" stroke-width="1.2" stroke-linejoin="round">450</text>
<text transform="translate(861.38,1603.80) scale(0.9500,1)" font-weight="bold" font-size="65" stroke="#000" stroke-width="1.2" stroke-linejoin="round">500</text>
<text transform="translate(1026.31,1603.80) scale(0.9500,1)" font-weight="bold" font-size="65" stroke="#000" stroke-width="1.2" stroke-linejoin="round">550</text>
<text transform="translate(1190.76,1603.80) scale(0.9500,1)" font-weight="bold" font-size="65" stroke="#000" stroke-width="1.2" stroke-linejoin="round">600</text>
<text transform="translate(1355.68,1603.80) scale(0.9500,1)" font-weight="bold" font-size="65" stroke="#000" stroke-width="1.2" stroke-linejoin="round">650</text>
<text transform="translate(1520.61,1603.80) scale(0.9500,1)" font-weight="bold" font-size="65" stroke="#000" stroke-width="1.2" stroke-linejoin="round">700</text>
<text transform="translate(1685.54,1603.80) scale(0.9500,1)" font-weight="bold" font-size="65" stroke="#000" stroke-width="1.2" stroke-linejoin="round">750</text>
<text transform="translate(1850.94,1603.80) scale(0.9500,1)" font-weight="bold" font-size="65" stroke="#000" stroke-width="1.2" stroke-linejoin="round">800</text>
<text transform="translate(2015.86,1603.80) scale(0.9500,1)" font-weight="bold" font-size="65" stroke="#000" stroke-width="1.2" stroke-linejoin="round">850</text>
<text transform="translate(910.15,1711.60) scale(0.9482,1)" font-weight="bold" font-size="65" stroke="#000" stroke-width="1.2" stroke-linejoin="round">Wavelength / nm</text>
<text transform="translate(76.00,1128.69) rotate(-90) scale(0.9465,1)" font-weight="bold" font-size="65" stroke="#000" stroke-width="1.2" stroke-linejoin="round">Quantum efficiency / %</text>
<text transform="translate(519.79,831.60) scale(0.9695,1)" font-weight="bold" font-size="57" stroke="#000" stroke-width="1.2" stroke-linejoin="round">PSC with ETL C60</text>
<text transform="translate(657.72,901.60) scale(0.9688,1)" font-weight="normal" font-size="57" stroke="#000" stroke-width="0.7" stroke-linejoin="round">PEDOt:PSS (inverted)</text>
<text transform="translate(658.27,970.90) scale(0.9672,1)" font-weight="normal" font-size="57" stroke="#000" stroke-width="0.7" stroke-linejoin="round">Cu<tspan font-size="41" dy="14.7" dx="1.5">2</tspan><tspan dy="-14.7" dx="0">O (inverted)</tspan></text>
<text transform="translate(659.05,1051.00) scale(0.9771,1)" font-weight="normal" font-size="57" stroke="#000" stroke-width="0.7" stroke-linejoin="round">CuSCN (inverted)</text>
<text transform="translate(659.05,1119.90) scale(0.9762,1)" font-weight="normal" font-size="57" stroke="#000" stroke-width="0.7" stroke-linejoin="round">CuI (inverted)</text>
<text transform="translate(657.72,1187.50) scale(0.9699,1)" font-weight="normal" font-size="57" stroke="#000" stroke-width="0.7" stroke-linejoin="round">PEDOt:PSS (conventional)</text>
<text transform="translate(658.26,1256.20) scale(0.9714,1)" font-weight="normal" font-size="57" stroke="#000" stroke-width="0.7" stroke-linejoin="round">Cu<tspan font-size="41" dy="14.7" dx="1.5">2</tspan><tspan dy="-14.7" dx="0">O (conventional)</tspan></text>
<text transform="translate(659.05,1336.90) scale(0.9774,1)" font-weight="normal" font-size="57" stroke="#000" stroke-width="0.7" stroke-linejoin="round">CuSCN (conventional)</text>
<text transform="translate(659.04,1405.20) scale(0.9777,1)" font-weight="normal" font-size="57" stroke="#000" stroke-width="0.7" stroke-linejoin="round">CuI (conventional)</text>
</svg>
</body></html>
